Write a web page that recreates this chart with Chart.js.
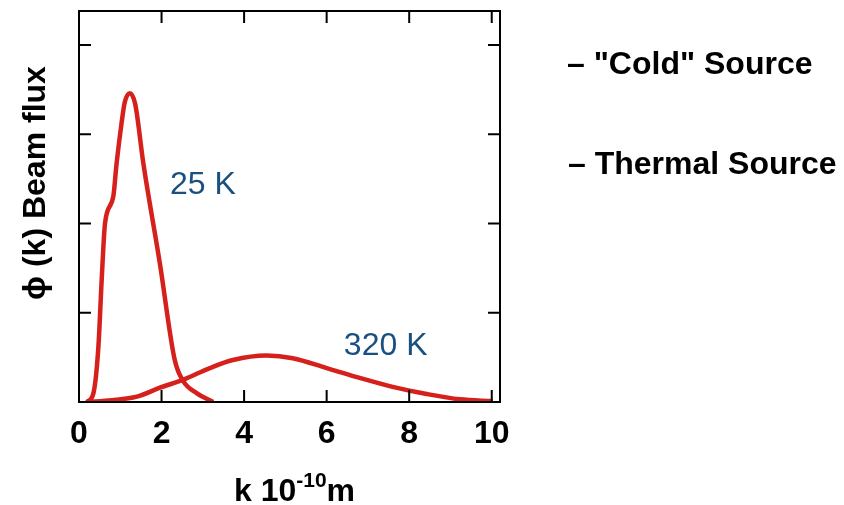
<!DOCTYPE html>
<html lang="en">
<head>
<meta charset="UTF-8">
<title>Beam flux vs k</title>
<script src="https://cdn.jsdelivr.net/npm/chart.js"></script>
<style>
    body { margin: 0; background: #fff; }
    .wrap { width: 844px; height: 505px; position: relative; }
</style>
</head>
<body>
<div class="wrap"><canvas id="fluxChart"></canvas></div>
<script>
// "cold" (25 K) source
const coldK    = [0.19, 0.35, 0.47, 0.55, 0.63, 0.83, 0.91, 1.03, 1.11, 1.23, 1.36, 1.56, 1.96, 2.32, 2.53, 2.85, 3.25];
const coldFlux = [0.00, 0.10, 0.62, 1.37, 2.00, 2.30, 2.67, 3.12, 3.36, 3.46, 3.34, 2.67, 1.55, 0.47, 0.23, 0.10, 0.00];
// thermal (320 K) source
const thermalK    = [0.19, 0.80, 1.40, 1.96, 2.53, 3.17, 3.73, 4.54, 5.18, 6.00, 6.80, 7.60, 8.42, 9.23, 10.02];
const thermalFlux = [0.00, 0.02, 0.06, 0.16, 0.25, 0.38, 0.47, 0.52, 0.49, 0.38, 0.27, 0.17, 0.09, 0.03, 0.01];

const xTicks = [0, 2, 4, 6, 8, 10];
const yTicks = [1, 2, 3, 4];
const curveLabels = ['25 K', '320 K'];
const legendLabels = ['\u2013 "Cold" Source', '\u2013 Thermal Source'];

const RED = '#d6201b';
const FONT = "'Liberation Sans', Arial, sans-serif";

function pts(xs, ys) {
    return xs.map((x, i) => ({ x: x, y: ys[i] }));
}

// frame, inward ticks, titles, labels and legend
const decor = {
    id: 'decor',
    afterDraw(chart) {
        const ctx = chart.ctx;
        const a = chart.chartArea;
        const sx = chart.scales.x, sy = chart.scales.y;
        const tl = 12;
        ctx.save();
        ctx.strokeStyle = '#000';
        ctx.lineWidth = 2;
        ctx.strokeRect(a.left, a.top, a.right - a.left, a.bottom - a.top);
        ctx.beginPath();
        xTicks.forEach(v => {
            const px = sx.getPixelForValue(v);
            ctx.moveTo(px, a.bottom); ctx.lineTo(px, a.bottom - tl);
            ctx.moveTo(px, a.top); ctx.lineTo(px, a.top + tl);
        });
        yTicks.forEach(v => {
            const py = sy.getPixelForValue(v);
            ctx.moveTo(a.left, py); ctx.lineTo(a.left + tl, py);
            ctx.moveTo(a.right, py); ctx.lineTo(a.right - tl, py);
        });
        ctx.stroke();

        // curve labels
        ctx.fillStyle = '#19507f';
        ctx.font = '32px ' + FONT;
        ctx.textAlign = 'center';
        ctx.textBaseline = 'middle';
        ctx.fillText(curveLabels[0], sx.getPixelForValue(3.0), sy.getPixelForValue(2.43));
        ctx.fillText(curveLabels[1], sx.getPixelForValue(7.43), sy.getPixelForValue(0.62));

        // legend
        ctx.fillStyle = '#000';
        ctx.font = 'bold 32px ' + FONT;
        ctx.textAlign = 'left';
        ctx.textBaseline = 'alphabetic';
        ctx.fillText(legendLabels[0], 567, 74);
        ctx.fillText(legendLabels[1], 568, 174);

        // x title with superscript
        const big = 'bold 32px ' + FONT, small = 'bold 21px ' + FONT;
        ctx.font = big;
        const w1 = ctx.measureText('k 10').width, w3 = ctx.measureText('m').width;
        ctx.font = small;
        const w2 = ctx.measureText('-10').width;
        let x0 = 294.5 - (w1 + w2 + w3) / 2;
        const base = 501;
        ctx.font = big; ctx.fillText('k 10', x0, base);
        ctx.font = small; ctx.fillText('-10', x0 + w1, base - 14);
        ctx.font = big; ctx.fillText('m', x0 + w1 + w2, base);

        // y title
        ctx.translate(36, 183);
        ctx.rotate(-Math.PI / 2);
        ctx.textAlign = 'center';
        ctx.textBaseline = 'middle';
        ctx.font = 'bold 32px ' + FONT;
        ctx.fillText('\u03d5 (k) Beam flux', 0, 0);
        ctx.restore();
    }
};

new Chart(document.getElementById('fluxChart'), {
    type: 'line',
    data: {
        datasets: [
            { label: 'Cold', data: pts(coldK, coldFlux) },
            { label: 'Thermal', data: pts(thermalK, thermalFlux) }
        ]
    },
    options: {
        responsive: true,
        maintainAspectRatio: false,
        animation: false,
        layout: { padding: { top: 11, right: 344, left: 0, bottom: 0 } },
        elements: {
            line: { borderColor: RED, borderWidth: 4.5, cubicInterpolationMode: 'monotone', fill: false },
            point: { radius: 0 }
        },
        plugins: { legend: { display: false }, tooltip: { enabled: false } },
        scales: {
            x: {
                type: 'linear', min: 0, max: 10.2,
                grid: { display: false }, border: { display: false },
                afterBuildTicks: s => { s.ticks = xTicks.map(v => ({ value: v })); },
                afterFit: s => { s.height = 103; },
                ticks: { color: '#000', padding: 5, maxRotation: 0, font: { family: FONT, size: 32, weight: 'bold' } }
            },
            y: {
                min: 0, max: 4.38,
                grid: { display: false }, border: { display: false },
                afterBuildTicks: s => { s.ticks = yTicks.map(v => ({ value: v })); },
                afterFit: s => { s.width = 79; },
                ticks: { display: false }
            }
        }
    },
    plugins: [decor]
});
</script>
</body>
</html>
